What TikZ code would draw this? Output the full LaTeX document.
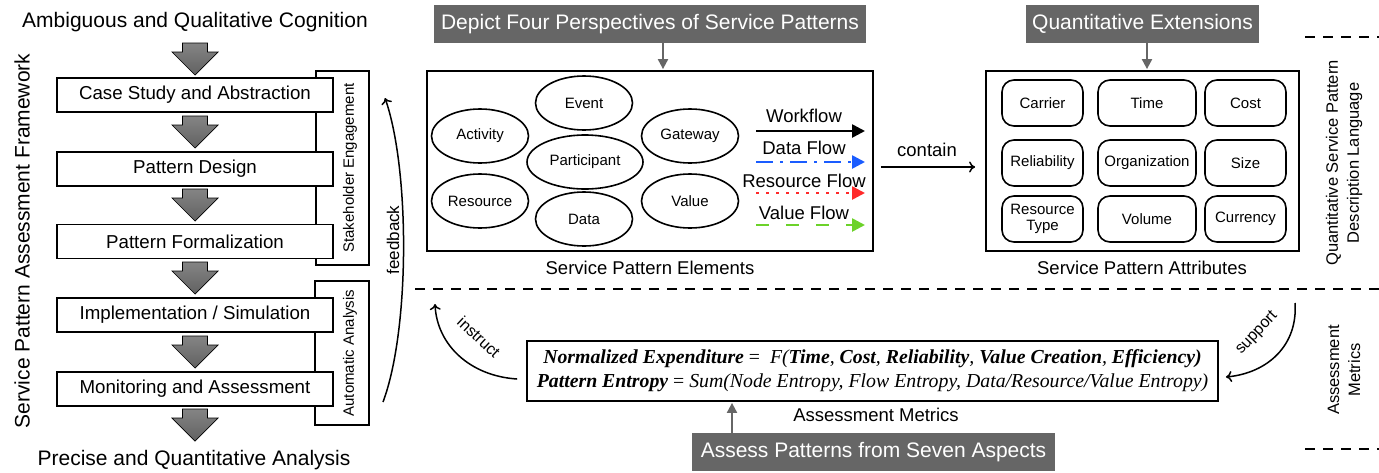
\documentclass[tikz,border=0pt]{standalone}
\usepackage{fontspec}
\setmainfont{Liberation Sans}
\newfontfamily\formfont{Liberation Serif}
\usetikzlibrary{arrows.meta,shapes.geometric,calc}
\definecolor{boxgray}{HTML}{666666}
\definecolor{flowblue}{HTML}{1A5CFF}
\definecolor{flowred}{HTML}{FF2A2A}
\definecolor{flowgreen}{HTML}{6CD22A}

\begin{document}
\begin{tikzpicture}[x=1pt,y=-1pt,
  stepbox/.style={draw, line width=1.6pt, fill=white, minimum width=276pt, minimum height=34pt,
    inner sep=0pt, font=\fontsize{18.7}{22}\selectfont},
  bracket/.style={draw, line width=1.6pt},
  sidetext/.style={rotate=90, font=\fontsize{15}{18}\selectfont},
  graybox/.style={fill=boxgray, text=white, minimum height=38pt, inner sep=0pt,
    font=\fontsize{21}{24}\selectfont},
  grayarrow/.style={draw=boxgray, line width=2pt, -{Triangle[length=10pt,width=10pt]}, color=boxgray},
  frame/.style={draw, line width=1.8pt, minimum height=180pt, inner sep=0pt},
  elem/.style={ellipse, draw, line width=1.6pt, minimum width=97pt, minimum height=54pt,
    inner sep=0pt, font=\fontsize{15}{18}\selectfont},
  attr/.style={draw, line width=1.6pt, rounded corners=12pt, minimum height=46pt, inner sep=0pt,
    align=center, font=\fontsize{15}{15.5}\selectfont},
  legendlabel/.style={font=\fontsize{18.5}{21}\selectfont},
  legendarrow/.style={line width=2.6pt, -{Triangle[length=13pt,width=13pt]}},
  caption/.style={font=\fontsize{18.5}{21}\selectfont},
  bigtext/.style={font=\fontsize{21}{25}\selectfont},
  linkarrow/.style={line width=1.5pt, -{To[length=6pt,width=11pt]}},
  linklabel/.style={font=\fontsize{16}{19}\selectfont},
  divider/.style={line width=2pt, dash pattern=on 10pt off 8pt},
  blockdown/.pic={\draw[top color=black!48, bottom color=black!62, line width=0.7pt, line join=miter]
    (-12.5,0) -- (12.5,0) -- (12.5,9) -- (23,9) -- (0,32) -- (-23,9) -- (-12.5,9) -- cycle;}
]
\useasboundingbox (0,0) rectangle (1379,472);

% ---------- assessment framework (left column) ----------
\node[bigtext] (top) at (195,22) {Ambiguous and Qualitative Cognition};
\node[bigtext] (bottom) at (194,460) {Precise and Quantitative Analysis};
\node[bigtext, rotate=90] (framework) at (22,241) {Service Pattern Assessment Framework};

\draw[bracket] (316,71) rectangle (369,265);
\draw[bracket] (315,281) rectangle (369,425);
\node[sidetext] (stake) at (350,168) {Stakeholder Engagement};
\node[sidetext] (auto) at (350,353) {Automatic Analysis};

\node[stepbox] (s1) at (195,95) {Case Study and Abstraction};
\node[stepbox] (s2) at (195,169) {Pattern Design};
\node[stepbox] (s3) at (195,241.5) {Pattern Formalization};
\node[stepbox] (s4) at (195,315) {Implementation / Simulation};
\node[stepbox] (s5) at (195,389) {Monitoring and Assessment};

\pic at (195,43) {blockdown};
\pic at (195,116) {blockdown};
\pic at (195,189) {blockdown};
\pic at (195,262) {blockdown};
\pic at (195,336) {blockdown};
\pic at (195,409) {blockdown};

% feedback loop
\coordinate (fbstart) at (383,402);
\coordinate (fbend) at (385,98);
\draw[linkarrow] (fbstart) .. controls (410,330) and (410,170) .. (fbend);
\node[linklabel, rotate=90, font=\fontsize{17}{20}\selectfont] (fb) at (393,240) {feedback};

% ---------- service pattern elements ----------
\node[graybox, minimum width=432pt] (depict) at (650,24) {Depict Four Perspectives of Service Patterns};
\node[frame, minimum width=446pt] (elems) at (650,161) {};
\draw[grayarrow] ($(depict.south)+(13,0)$) -- ($(elems.north)+(13,-1)$);

\node[elem] (activity) at (480,136) {Activity};
\node[elem] (event) at (584,103) {Event};
\node[elem, minimum width=116pt] (participant) at (585,162) {Participant};
\node[elem] (gateway) at (690,136) {Gateway};
\node[elem] (resource) at (480,201) {Resource};
\node[elem] (data) at (584,219) {Data};
\node[elem] (value) at (690,201) {Value};

\node[legendlabel] (wf) at (804,116) {Workflow};
\node[legendlabel] (df) at (804,148) {Data Flow};
\node[legendlabel] (rf) at (804,181) {Resource Flow};
\node[legendlabel] (vf) at (804,213) {Value Flow};
\coordinate (wf1) at (756,131); \coordinate (wf2) at (865,131);
\coordinate (df1) at (756,162); \coordinate (df2) at (865,162);
\coordinate (rf1) at (756,193); \coordinate (rf2) at (865,193);
\coordinate (vf1) at (756,225); \coordinate (vf2) at (865,225);
\draw[legendarrow] (wf1) -- (wf2);
\draw[legendarrow, flowblue, dash pattern=on 17pt off 7pt on 3pt off 7pt] (df1) -- (df2);
\draw[legendarrow, flowred, dash pattern=on 3pt off 7pt] (rf1) -- (rf2);
\draw[legendarrow, flowgreen, dash pattern=on 13pt off 17pt] (vf1) -- (vf2);

\node[caption] (elemcap) at (650,268) {Service Pattern Elements};

% ---------- service pattern attributes ----------
\node[graybox, minimum width=233pt] (quant) at (1142.5,24) {Quantitative Extensions};
\node[frame, minimum width=313pt] (attrs) at (1142.5,161) {};
\draw[grayarrow] ($(quant.south)+(4.5,0)$) -- ($(attrs.north)+(4.5,-1)$);

\node[attr, minimum width=81pt] (carrier) at (1042.5,103) {Carrier};
\node[attr, minimum width=98pt] (time) at (1147,103) {Time};
\node[attr, minimum width=81pt] (cost) at (1245.5,103) {Cost};
\node[attr, minimum width=81pt] (reliab) at (1042.5,163) {Reliability};
\node[attr, minimum width=98pt] (org) at (1147,163) {Organization};
\node[attr, minimum width=81pt] (size) at (1245.5,163) {Size};
\node[attr, minimum width=81pt] (rtype) at (1042.5,219) {Resource\\Type};
\node[attr, minimum width=98pt] (volume) at (1147,219) {Volume};
\node[attr, minimum width=81pt] (currency) at (1245.5,219) {Currency};

\node[caption] (attrcap) at (1142,268) {Service Pattern Attributes};

\draw[linkarrow] ($(elems.east)+(7,6)$) -- ($(attrs.west)+(-10,6)$);
\node[caption] (contain) at (927,150) {contain};

% ---------- section labels and dividers ----------
\node[linklabel, rotate=90, align=center, font=\fontsize{16.5}{21}\selectfont] (qspdl) at (1344,163)
  {Quantitative Service Pattern\\Description Language};
\node[linklabel, rotate=90, align=center, font=\fontsize{16.5}{21}\selectfont] (amlabel) at (1344,370)
  {Assessment\\Metrics};
\draw[divider] (1305,37) -- (1379,37);
\draw[divider] (415,289) -- (1379,289);
\draw[divider] (1305,449) -- (1379,449);

% ---------- assessment metrics ----------
\node[draw, line width=1.8pt, minimum width=691pt, minimum height=60pt, inner sep=0pt, align=center,
  font=\formfont\fontsize{19.8}{24}\selectfont] (metrics) at (872.5,371)
  {{\bfseries\itshape Normalized Expenditure} =\ \ {\itshape F(}{\bfseries\itshape Time}{\itshape ,}
   {\bfseries\itshape Cost}{\itshape ,} {\bfseries\itshape Reliability}{\itshape ,}
   {\bfseries\itshape Value Creation}{\itshape ,} {\bfseries\itshape Efficiency)}\\
   {\bfseries\itshape Pattern Entropy} = {\itshape Sum(Node Entropy, Flow Entropy, Data/Resource/Value Entropy)}};
\node[caption] (metcap) at (876,415) {Assessment Metrics};

\node[graybox, minimum width=363pt] (assess) at (873.5,452) {Assess Patterns from Seven Aspects};
\draw[grayarrow] (assess.north -| 732,0) -- ($(metrics.south -| 732,0)+(0,1)$);

\coordinate (inend) at (435,304);
\draw[linkarrow] ($(metrics.west)+(-9,8)$) .. controls (470,376) and (437,345) .. (inend);
\node[linklabel, rotate=-43] (instruct) at (479,337) {instruct};

\coordinate (supstart) at (1295,303);
\draw[linkarrow] (supstart) .. controls (1298,345) and (1268,373) .. ($(metrics.east)+(7,6)$);
\node[linklabel, rotate=47] (support) at (1257,333) {support};
\end{tikzpicture}
\end{document}
